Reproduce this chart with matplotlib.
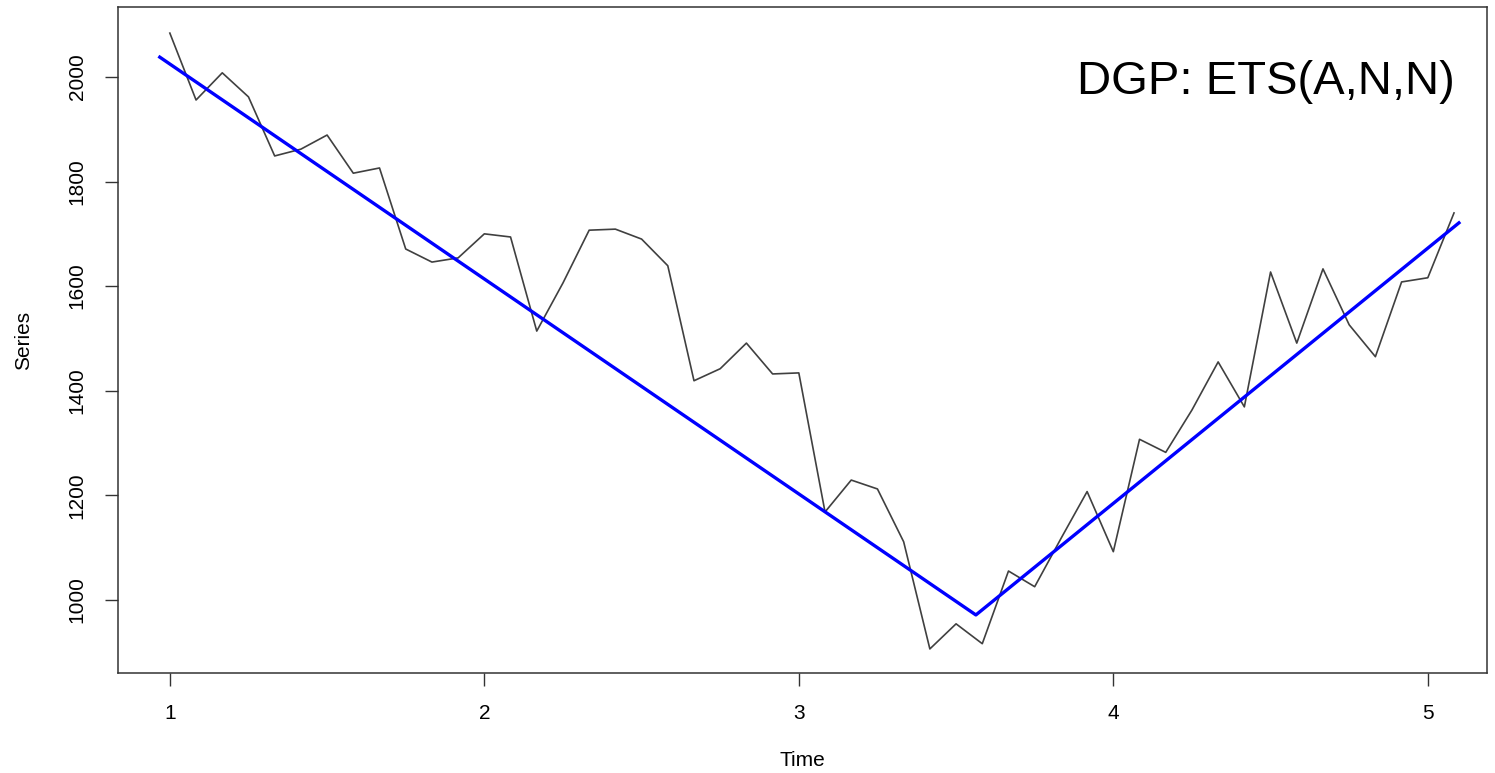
import numpy as np
import matplotlib
matplotlib.use("Agg")
from matplotlib import pyplot as plt

plt.rcParams['font.family'] = ['Liberation Sans', 'DejaVu Sans']

# monthly series starting at time 1 (frequency 12)
series = [2084, 1956, 2008, 1962, 1849, 1862, 1889, 1816, 1826, 1671,
          1646, 1654, 1700, 1694, 1514, 1606, 1707, 1709, 1690, 1639,
          1419, 1442, 1491, 1432, 1434, 1168, 1229, 1212, 1111, 906,
          954, 916, 1055, 1025, 1117, 1207, 1092, 1307, 1282, 1363,
          1455, 1369, 1627, 1491, 1633, 1526, 1465, 1608, 1616, 1740]
start = 1.0
freq = 12

# piecewise trend (blue line)
trend_t = [0.968, 3.563, 5.099]
trend_v = [2038, 971, 1721]

time = start + np.arange(len(series)) / freq

fig = plt.figure(figsize=(14.95, 7.73), dpi=100)
ax = fig.add_axes([0.0789, 0.1294, 0.9157, 0.8616])

ax.plot(time, series, color='#404040', lw=1.2)
ax.plot(trend_t, trend_v, color='#0000ff', lw=2.4)

ax.set_xlim(0.835, 5.188)
ax.set_ylim(860, 2134)
ax.set_xticks([1, 2, 3, 4, 5])
ax.set_yticks([1000, 1200, 1400, 1600, 1800, 2000])

ax.tick_params(direction='out', length=9.5, width=1, color='#333333',
               labelsize=15, pad=13)
for lab in ax.get_yticklabels():
    lab.set_rotation(90)
    lab.set_va('center')

for s in ax.spines.values():
    s.set_color('#333333')
    s.set_linewidth(1.1)

ax.set_xlabel('Time', fontsize=15, labelpad=20)
ax.set_ylabel('Series', fontsize=15, labelpad=25)

ax.text(0.9766, 0.8694, 'DGP: ETS(A,N,N)', transform=ax.transAxes,
        ha='right', va='baseline', fontsize=34)

fig.savefig('out.png', dpi=100)
